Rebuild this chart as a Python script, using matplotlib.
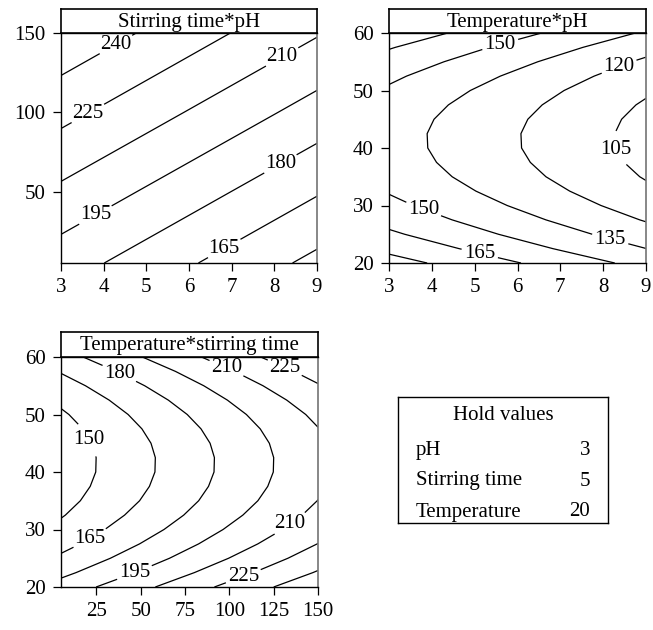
import matplotlib
matplotlib.use("Agg")
from matplotlib import pyplot as plt

# axis grids
ph = [3, 5, 7, 9]
stirring = [5, 50, 100, 150]
temperature = [20, 22.5, 25, 27.5, 30, 32.5, 35, 37.5, 40,
               42.5, 45, 47.5, 50, 52.5, 55, 57.5, 60]

# response; rows follow the y axis, columns the x axis
resp_stir_ph = [
    [186.9, 173.3, 159.7, 146.1],
    [207.1, 193.5, 179.9, 166.3],
    [229.6, 216.0, 202.4, 188.8],
    [252.0, 238.4, 224.8, 211.2],
]
resp_temp_ph = [
    [186.1, 172.4, 158.7, 145.0],
    [176.2, 162.5, 148.8, 135.1],
    [167.5, 153.8, 140.1, 126.4],
    [160.1, 146.4, 132.7, 119.0],
    [153.9, 140.2, 126.5, 112.8],
    [148.9, 135.2, 121.5, 107.8],
    [145.1, 131.4, 117.7, 104.0],
    [142.6, 128.9, 115.2, 101.5],
    [141.2, 127.5, 113.8, 100.1],
    [141.1, 127.4, 113.7, 100.0],
    [142.2, 128.5, 114.8, 101.1],
    [144.5, 130.8, 117.1, 103.4],
    [148.0, 134.3, 120.6, 106.9],
    [152.8, 139.1, 125.4, 111.7],
    [158.8, 145.1, 131.4, 117.7],
    [166.0, 152.3, 138.6, 124.9],
    [174.4, 160.7, 147.0, 133.3],
]
resp_temp_stir = [
    [186.1, 206.3, 228.8, 251.2],
    [176.2, 196.4, 218.9, 241.3],
    [167.5, 187.7, 210.2, 232.6],
    [160.1, 180.3, 202.8, 225.2],
    [153.9, 174.1, 196.6, 219.0],
    [148.9, 169.1, 191.6, 214.0],
    [145.1, 165.3, 187.8, 210.2],
    [142.6, 162.8, 185.3, 207.7],
    [141.2, 161.4, 183.9, 206.3],
    [141.1, 161.3, 183.8, 206.2],
    [142.2, 162.4, 184.9, 207.3],
    [144.5, 164.7, 187.2, 209.6],
    [148.0, 168.2, 190.7, 213.1],
    [152.8, 173.0, 195.5, 217.9],
    [158.8, 179.0, 201.5, 223.9],
    [166.0, 186.2, 208.7, 231.1],
    [174.4, 194.6, 217.1, 239.5],
]

levels_stir_ph = [150, 165, 180, 195, 210, 225, 240]
levels_temp_ph = [105, 120, 135, 150, 165, 180]
levels_temp_stir = [150, 165, 180, 195, 210, 225, 240]

hold_names = ["pH", "Stirring time", "Temperature"]
hold_values = [3, 5, 20]

plt.rcParams['font.family'] = ['Liberation Serif', 'DejaVu Serif']
FS = 15


def draw_panel(fig, rect, strip_h, x, y, z, levels, title, xticks, yticks,
               xlim, ylim, label_pos):
    ax = fig.add_axes(rect)
    cs = ax.contour(x, y, z, levels=levels, colors='black', linewidths=0.9)
    labels = ax.clabel(cs, fmt='%d', fontsize=FS, inline=True,
                       inline_spacing=3, manual=label_pos)
    for t in labels:
        t.set_rotation(0)
    ax.set_xlim(xlim)
    ax.set_ylim(ylim)
    ax.set_xticks(xticks)
    ax.set_yticks(yticks)
    ax.tick_params(direction='out', length=6, width=0.9, labelsize=FS, pad=5)
    for side in ['left', 'bottom', 'top']:
        ax.spines[side].set_linewidth(1.0)
    ax.spines['right'].set_color('0.45')
    ax.spines['right'].set_linewidth(1.2)

    strip = fig.add_axes([rect[0], rect[1] + rect[3], rect[2], strip_h])
    strip.set_xticks([])
    strip.set_yticks([])
    for s in strip.spines.values():
        s.set_linewidth(1.2)
    strip.text(0.5, 0.45, title, ha='center', va='center', fontsize=FS)
    return ax


def main():
    W, H = 653, 630
    fig = plt.figure(figsize=(W / 100, H / 100), dpi=100)

    draw_panel(fig, [61 / W, 1 - 263 / H, 256 / W, 230 / H], 24 / H,
               ph, stirring, resp_stir_ph, levels_stir_ph, "Stirring time*pH",
               [3, 4, 5, 6, 7, 8, 9], [50, 100, 150], (3, 9), (5, 150),
               [(4.27, 143.6), (3.64, 98.8), (8.21, 133.6), (3.8, 35.6),
                (8.13, 68.1), (6.8, 15.4)])

    draw_panel(fig, [389 / W, 1 - 263 / H, 257 / W, 230 / H], 24 / H,
               ph, temperature, resp_temp_ph, levels_temp_ph, "Temperature*pH",
               [3, 4, 5, 6, 7, 8, 9], [20, 30, 40, 50, 60], (3, 9), (20, 60),
               [(5.59, 58.2), (8.4, 53.6), (8.32, 39.9), (3.8, 29.2),
                (5.12, 21.7), (8.17, 24.3)])

    draw_panel(fig, [61 / W, 1 - 587 / H, 257 / W, 230 / H], 25 / H,
               stirring, temperature, resp_temp_stir, levels_temp_stir,
               "Temperature*stirring time",
               [25, 50, 75, 100, 125, 150], [20, 30, 40, 50, 60], (5, 150), (20, 60),
               [(37, 56.6), (98, 57.8), (131.2, 58.1), (20.3, 45.6),
                (21.2, 28.5), (46.6, 22.4), (107.6, 22.1), (134, 31.1)])

    # hold values box
    box = fig.add_axes([398 / W, 1 - 523 / H, 210 / W, 126 / H])
    box.set_xlim(0, 1)
    box.set_ylim(0, 1)
    box.set_xticks([])
    box.set_yticks([])
    for s in box.spines.values():
        s.set_linewidth(1.0)
    box.text(0.5, 1 - 18 / 126, "Hold values", ha='center', va='center', fontsize=FS)
    for i, (name, val) in enumerate(zip(hold_names, hold_values)):
        yy = 1 - (53 + 31 * i) / 126
        box.text(18 / 210, yy, name, ha='left', va='center', fontsize=FS)
        box.text(192 / 210, yy, str(val), ha='right', va='center', fontsize=FS)

    fig.savefig("out.png", dpi=100)


if __name__ == "__main__":
    main()
